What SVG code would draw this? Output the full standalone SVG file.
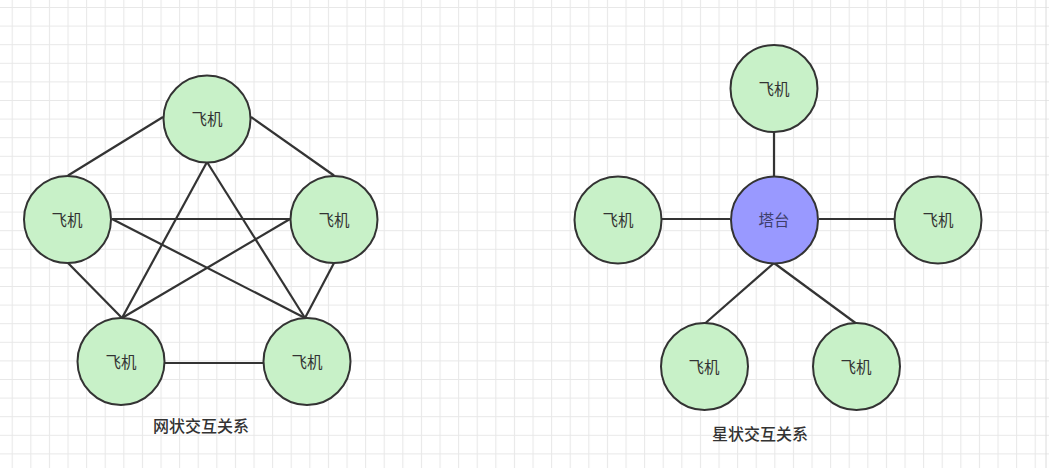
<svg xmlns="http://www.w3.org/2000/svg" width="1049" height="468" viewBox="0 0 1049 468" xml:lang="zh-CN">
<defs>
<pattern id="grid" x="11.7" y="7" width="18.6" height="18.6" patternUnits="userSpaceOnUse">
<path d="M0.5 0V18.6M0 0.5H18.6" fill="none" stroke="#e8e8e8" stroke-width="1.2"/>
</pattern>
<style>
.plane{fill:#c8f1c8;stroke:#333;stroke-width:2}
.tower{fill:#9999ff;stroke:#333;stroke-width:2}
.lbl{font-family:"Noto Sans CJK SC","Noto Sans",sans-serif;font-size:15.5px;fill:#333;text-anchor:middle;dominant-baseline:central}
.tlbl{font-family:"Noto Sans CJK SC","Noto Sans",sans-serif;font-size:15.5px;fill:#3e3e6a;text-anchor:middle;dominant-baseline:central}
.cap{font-family:"Noto Sans CJK SC","Noto Sans",sans-serif;font-size:16px;font-weight:500;fill:#333;text-anchor:middle;dominant-baseline:central}
.edge{stroke:#333;stroke-width:2.2;fill:none}
</style>
</defs>
<rect width="1049" height="468" fill="#fff"/>
<rect width="1049" height="468" fill="url(#grid)"/>
<line x1="1046" y1="0" x2="1046" y2="468" stroke="#dcdcdc" stroke-width="1"/>

<g id="connectors">
<g id="mesh-edges">
<line class="edge" x1="163" y1="117" x2="68" y2="175.5"/>
<line class="edge" x1="251" y1="117" x2="334" y2="175.5"/>
<line class="edge" x1="207" y1="162" x2="122" y2="318"/>
<line class="edge" x1="207" y1="162" x2="305" y2="318"/>
<line class="edge" x1="112" y1="219" x2="290" y2="219"/>
<line class="edge" x1="112" y1="219" x2="305" y2="318"/>
<line class="edge" x1="290" y1="219" x2="122" y2="318"/>
<line class="edge" x1="68" y1="263" x2="122" y2="318"/>
<line class="edge" x1="334" y1="263" x2="305" y2="318"/>
<line class="edge" x1="165" y1="363" x2="263" y2="363"/>
</g>
<g id="star-edges">
<line class="edge" x1="774" y1="132" x2="774" y2="176"/>
<line class="edge" x1="662" y1="219" x2="730" y2="219"/>
<line class="edge" x1="819" y1="219" x2="894" y2="219"/>
<line class="edge" x1="774" y1="263" x2="705.5" y2="323"/>
<line class="edge" x1="774" y1="263" x2="855.5" y2="323"/>
</g>
</g>

<g id="mesh-top"><circle class="plane" cx="207" cy="119" r="43.5"/><text class="lbl" x="207" y="118">飞机</text></g>
<g id="mesh-left"><circle class="plane" cx="67.5" cy="219.5" r="43.5"/><text class="lbl" x="67" y="219">飞机</text></g>
<g id="mesh-right"><circle class="plane" cx="334" cy="219.5" r="43.5"/><text class="lbl" x="334" y="219">飞机</text></g>
<g id="mesh-bottom-left"><circle class="plane" cx="121" cy="361.5" r="43.5"/><text class="lbl" x="121" y="361">飞机</text></g>
<g id="mesh-bottom-right"><circle class="plane" cx="307" cy="361.5" r="43.5"/><text class="lbl" x="307" y="361">飞机</text></g>
<g id="mesh-caption"><text class="cap" x="201" y="425">网状交互关系</text></g>

<g id="star-top"><circle class="plane" cx="774" cy="88.5" r="43.5"/><text class="lbl" x="774" y="88">飞机</text></g>
<g id="star-tower"><circle class="tower" cx="774.5" cy="220" r="43.5"/><text class="tlbl" x="774" y="219">塔台</text></g>
<g id="star-left"><circle class="plane" cx="618" cy="220" r="43.5"/><text class="lbl" x="618" y="219">飞机</text></g>
<g id="star-right"><circle class="plane" cx="938" cy="220" r="43.5"/><text class="lbl" x="938" y="219">飞机</text></g>
<g id="star-bottom-left"><circle class="plane" cx="704.5" cy="366.5" r="43.5"/><text class="lbl" x="704" y="366">飞机</text></g>
<g id="star-bottom-right"><circle class="plane" cx="856.5" cy="366.5" r="43.5"/><text class="lbl" x="856" y="366">飞机</text></g>
<g id="star-caption"><text class="cap" x="760" y="433">星状交互关系</text></g>
</svg>
